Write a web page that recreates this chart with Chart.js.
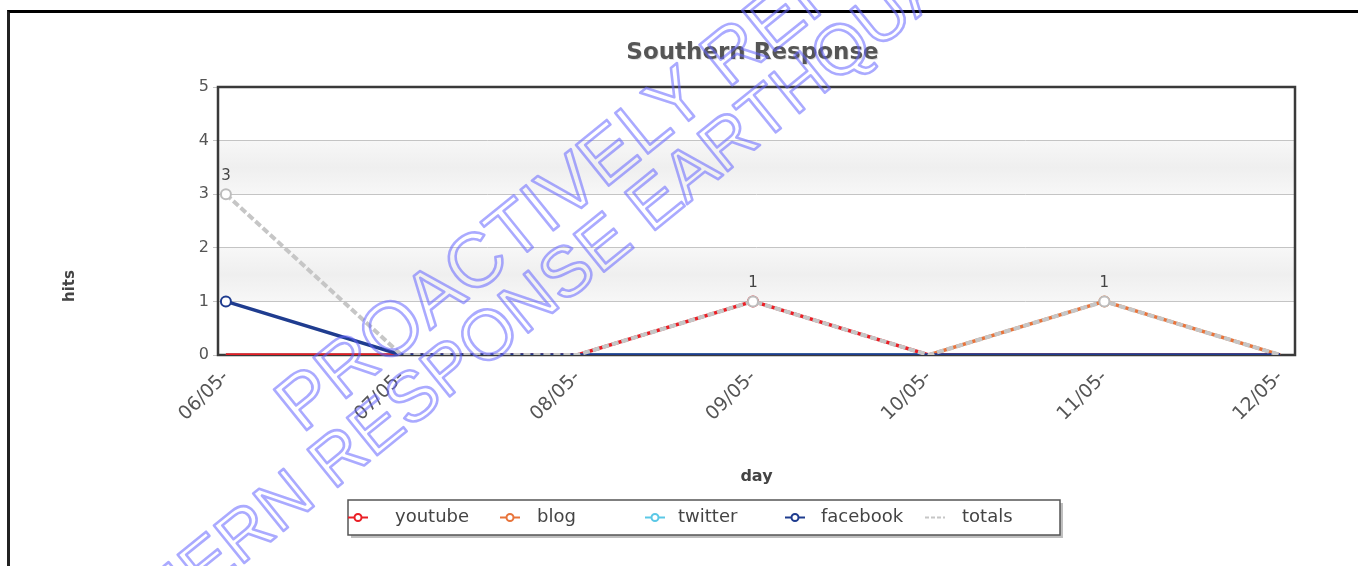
<!DOCTYPE html>
<html>
<head>
<meta charset="utf-8">
<script src="https://cdn.jsdelivr.net/npm/chart.js@4/dist/chart.umd.min.js"></script>
<style>
  html, body { margin: 0; padding: 0; background: #fff; }
  #wrap { position: relative; width: 1358px; height: 566px; overflow: hidden; }
  #frame { position: absolute; left: 7px; top: 10px; right: -5px; bottom: -5px;
           border-top: 3px solid #000; border-left: 3px solid #222; }
  canvas { position: absolute; left: 0; top: 0; }
</style>
</head>
<body>
<div id="wrap">
  <div id="frame"></div>
  <canvas id="chart" width="1358" height="566"></canvas>
</div>
<script>
// Southern Response - daily hits per channel
const days = ['06/05-', '07/05-', '08/05-', '09/05-', '10/05-', '11/05-', '12/05-'];
const youtube = [0, 0, 0, 1, 0, 0, 0];
const blog = [0, 0, 0, 0, 0, 1, 0];
const twitter = [0, 0, 0, 0, 0, 0, 0];
const facebook = [1, 0, 0, 0, 0, 0, 0];
const totals = [3, 0, 0, 1, 0, 1, 0];
const yTicks = [0, 1, 2, 3, 4, 5];

const seriesNames = ['youtube', 'blog', 'twitter', 'facebook', 'totals'];
const seriesColors = ['#ea1f26', '#e8743b', '#5bc8e6', '#1f3c8f', '#c6c6c6'];

const FONT = '"DejaVu Sans", Verdana, sans-serif';

function toPoints(arr) {
    return arr.map((v, i) => ({ x: i, y: v }));
}

function makeDataset(i, values, order) {
    const isTotals = seriesNames[i] === 'totals';
    return {
        label: seriesNames[i],
        data: toPoints(values),
        borderColor: seriesColors[i],
        backgroundColor: '#ffffff',
        borderWidth: isTotals ? 4 : 3.5,
        borderDash: isTotals ? [7, 3] : [],
        pointRadius: ctx => (ctx.raw && ctx.raw.y > 0 ? 5 : 0),
        pointBorderWidth: 2,
        pointBorderColor: isTotals ? '#bdbdbd' : seriesColors[i],
        pointBackgroundColor: '#ffffff',
        tension: 0,
        order: order
    };
}

// alternating bands + plot frame
const plotFrame = {
    id: 'plotFrame',
    beforeDraw(chart) {
        const { ctx, chartArea: a, scales: { y } } = chart;
        ctx.save();
        [[1, 2], [3, 4]].forEach(([lo, hi]) => {
            const top = y.getPixelForValue(hi);
            const bot = y.getPixelForValue(lo);
            const g = ctx.createLinearGradient(0, top, 0, bot);
            g.addColorStop(0, '#f7f7f7');
            g.addColorStop(0.5, '#efefef');
            g.addColorStop(1, '#f7f7f7');
            ctx.fillStyle = g;
            ctx.fillRect(a.left, top, a.right - a.left, bot - top);
        });
        ctx.restore();
    },
    beforeDatasetsDraw(chart) {
        const { ctx, chartArea: a } = chart;
        ctx.save();
        ctx.strokeStyle = '#3a3a3a';
        ctx.lineWidth = 2.5;
        ctx.strokeRect(a.left, a.top, a.right - a.left, a.bottom - a.top);
        ctx.restore();
    }
};

// value labels above non-zero totals points
const totalsLabels = {
    id: 'totalsLabels',
    afterDatasetsDraw(chart) {
        const { ctx } = chart;
        const idx = seriesNames.indexOf('totals');
        const meta = chart.getDatasetMeta(idx);
        ctx.save();
        ctx.font = '15px ' + FONT;
        ctx.fillStyle = '#444';
        ctx.textAlign = 'center';
        ctx.textBaseline = 'middle';
        meta.data.forEach((pt, i) => {
            if (totals[i] > 0) ctx.fillText(String(totals[i]), pt.x, pt.y - 18);
        });
        ctx.restore();
    }
};

// chart title (centred over the plot) and y axis title (a bit below middle)
const titles = {
    id: 'titles',
    afterDraw(chart) {
        const { ctx, chartArea: a } = chart;
        const cx = (a.left + a.right) / 2 - 4;
        ctx.save();
        ctx.font = 'bold 23px ' + FONT;
        ctx.textAlign = 'center';
        ctx.textBaseline = 'middle';
        ctx.fillStyle = 'rgba(0,0,0,0.12)';
        ctx.fillText('Southern Response', cx + 1, 54);
        ctx.fillStyle = '#555';
        ctx.fillText('Southern Response', cx, 53);
        ctx.translate(70, 286);
        ctx.rotate(-Math.PI / 2);
        ctx.font = 'bold 15px ' + FONT;
        ctx.fillStyle = '#444';
        ctx.fillText('hits', 0, 0);
        ctx.restore();
    }
};

// boxed legend under the axis title
const boxLegend = {
    id: 'boxLegend',
    afterDraw(chart) {
        const { ctx } = chart;
        const box = { x: 348, y: 500, w: 712, h: 35 };
        const cols = [10, 162, 307, 447, 587];
        const textGap = [37, 27, 23, 26, 27];
        ctx.save();
        ctx.fillStyle = 'rgba(0,0,0,0.25)';
        ctx.fillRect(box.x + 3, box.y + 3, box.w, box.h);
        ctx.fillStyle = '#fff';
        ctx.fillRect(box.x, box.y, box.w, box.h);
        ctx.strokeStyle = '#555';
        ctx.lineWidth = 1.5;
        ctx.strokeRect(box.x, box.y, box.w, box.h);
        const cy = box.y + box.h / 2;
        seriesNames.forEach((name, i) => {
            const mx = box.x + cols[i];
            const isTotals = name === 'totals';
            ctx.strokeStyle = seriesColors[i];
            ctx.lineWidth = 2;
            ctx.setLineDash(isTotals ? [4, 2] : []);
            ctx.beginPath();
            ctx.moveTo(mx - 10, cy);
            ctx.lineTo(mx + 10, cy);
            ctx.stroke();
            ctx.setLineDash([]);
            if (!isTotals) {
                ctx.beginPath();
                ctx.arc(mx, cy, 3.5, 0, Math.PI * 2);
                ctx.fillStyle = '#fff';
                ctx.fill();
                ctx.stroke();
            }
            ctx.fillStyle = '#444';
            ctx.font = '18px ' + FONT;
            ctx.textAlign = 'left';
            ctx.textBaseline = 'middle';
            ctx.fillText(name, mx + textGap[i], cy);
        });
        ctx.restore();
    }
};

// outlined diagonal watermark text, two parallel lines
const watermark = {
    id: 'watermark',
    afterDraw(chart) {
        const { ctx } = chart;
        const ang = -39 * Math.PI / 180;
        ctx.save();
        ctx.strokeStyle = 'rgba(100, 100, 255, 0.55)';
        ctx.lineWidth = 2.6;
        ctx.lineJoin = 'round';
        ctx.textBaseline = 'alphabetic';
        ctx.save();
        ctx.font = '76px "Liberation Sans", Arial, sans-serif';
        ctx.translate(302, 434);
        ctx.rotate(ang);
        ctx.strokeText('PROACTIVELY REPORTING', 0, 0);
        ctx.restore();
        ctx.save();
        ctx.font = '70px "Liberation Sans", Arial, sans-serif';
        ctx.translate(13, 750);
        ctx.rotate(ang);
        ctx.strokeText('SOUTHERN RESPONSE EARTHQUAKE', 0, 0);
        ctx.restore();
        ctx.restore();
    }
};

const datasets = [
    makeDataset(0, youtube, 2),
    makeDataset(1, blog, 4),
    makeDataset(2, twitter, 3),
    makeDataset(3, facebook, 1),
    makeDataset(4, totals, 0)
];

new Chart(document.getElementById('chart'), {
    type: 'line',
    data: { datasets },
    plugins: [plotFrame, totalsLabels, titles, boxLegend, watermark],
    options: {
        responsive: false,
        animation: false,
        layout: { padding: { left: 55, right: 63, top: 87, bottom: 76 } },
        plugins: {
            legend: { display: false },
            tooltip: { enabled: false },
            title: { display: false }
        },
        scales: {
            x: {
                type: 'linear',
                min: -0.045,
                max: 6.085,
                afterFit(scale) { scale.height = 135; },
                grid: { display: false },
                border: { display: false },
                ticks: {
                    stepSize: 1,
                    includeBounds: false,
                    autoSkip: false,
                    minRotation: 45,
                    maxRotation: 45,
                    color: '#555',
                    font: { family: FONT, size: 19 },
                    callback: v => days[v]
                },
                title: {
                    display: true,
                    text: 'day',
                    color: '#444',
                    font: { family: FONT, size: 16, weight: 'bold' },
                    padding: { top: 4, bottom: 4 }
                }
            },
            y: {
                min: yTicks[0],
                max: yTicks[yTicks.length - 1],
                afterFit(scale) { scale.width = 163; },
                border: { display: false },
                grid: { color: '#c4c4c4', lineWidth: 1, tickLength: 5 },
                ticks: {
                    stepSize: 1,
                    color: '#555',
                    padding: 4,
                    font: { family: FONT, size: 16 }
                }
            }
        }
    }
});
</script>
</body>
</html>
